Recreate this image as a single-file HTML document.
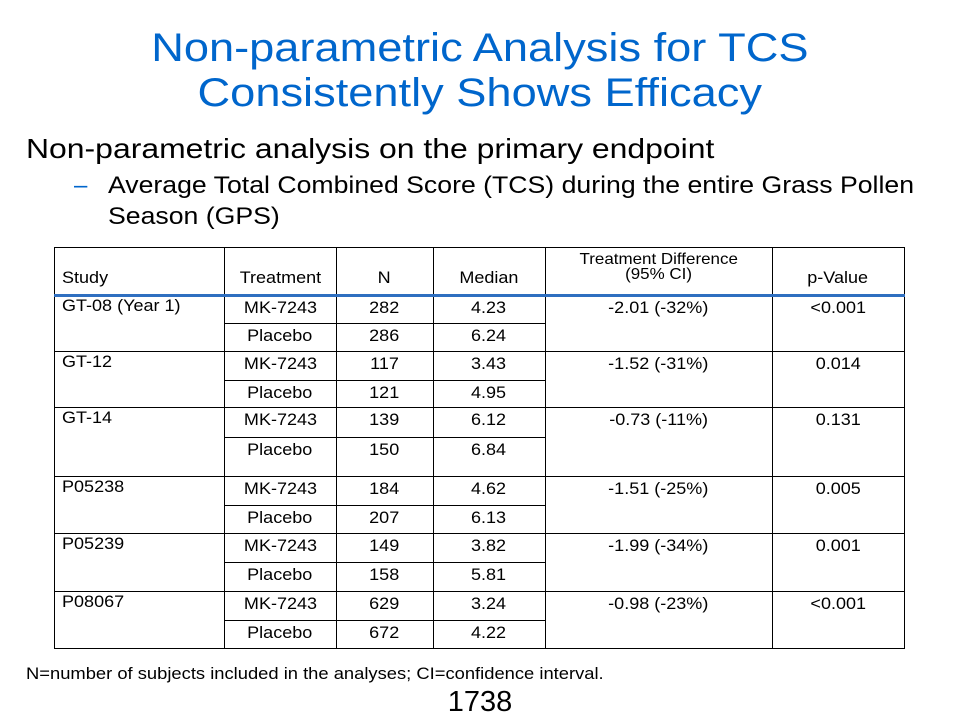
<!DOCTYPE html>
<html><head><meta charset="utf-8"><style>
body{margin:0;background:#fff;}
#s{position:relative;width:960px;height:720px;overflow:hidden;font-family:"Liberation Sans",Arial,sans-serif;color:#000;}
.t{position:absolute;white-space:nowrap;}
.sx{display:inline-block;}
.sl{transform-origin:0 0;}
.sc{transform-origin:50% 0;}
.title{left:0;width:960px;text-align:center;color:#0066CC;font-size:40px;line-height:47px;}
.title span{transform:scaleX(1.13);}
.h{position:absolute;background:#000;height:1px;}
.v{position:absolute;background:#000;width:1px;}
.c{position:absolute;font-size:17px;white-space:nowrap;}
.c span{display:inline-block;transform:scaleX(1.06);}
</style></head><body>
<div id="s">
<div class="t title" style="top:25px"><span class="sx sc">Non-parametric Analysis for TCS</span></div>
<div class="t title" style="top:70px"><span class="sx sc">Consistently Shows Efficacy</span></div>
<div class="t" style="left:26px;top:133px;font-size:28px"><span class="sx sl" style="transform:scaleX(1.14)">Non-parametric analysis on the primary endpoint</span></div>
<div class="t" style="left:74px;top:172px;font-size:24px;color:#0066CC">–</div>
<div class="t" style="left:108px;top:172px;font-size:24px"><span class="sx sl" style="transform:scaleX(1.11)">Average Total Combined Score (TCS) during the entire Grass Pollen</span></div>
<div class="t" style="left:108px;top:203px;font-size:24px"><span class="sx sl" style="transform:scaleX(1.11)">Season (GPS)</span></div>
<div id="tbl"></div>
<div class="t" style="left:26px;top:664px;font-size:17px"><span class="sx sl" style="transform:scaleX(1.08)">N=number of subjects included in the analyses; CI=confidence interval.</span></div>
<div class="t" style="left:0;width:960px;text-align:center;top:686px;font-size:29px">1738</div>
</div>
<script>
const studies=["GT-08 (Year 1)","GT-12","GT-14","P05238","P05239","P08067"];
const nActive=[282,117,139,184,149,629];
const nPlacebo=[286,121,150,207,158,672];
const medActive=["4.23","3.43","6.12","4.62","3.82","3.24"];
const medPlacebo=["6.24","4.95","6.84","6.13","5.81","4.22"];
const diffs=["-2.01 (-32%)","-1.52 (-31%)","-0.73 (-11%)","-1.51 (-25%)","-1.99 (-34%)","-0.98 (-23%)"];
const pvals=["<0.001","0.014","0.131","0.005","0.001","<0.001"];
const s=document.getElementById('tbl');
const X=[54,224,336,433,545,772,904];
const groupTop=[295,351,407,476,533,591];
const groupSub=[323,380,437,505,562,620];
const bottom=648;
function line(cls,l,t,w,h,name,col){const d=document.createElement('div');d.className=cls;d.style.left=l+'px';d.style.top=t+'px';if(w)d.style.width=w+'px';if(h)d.style.height=h+'px';if(col)d.style.background=col;


s.appendChild(d);}
function cell(txt,x0,x1,top,align,name,fs){const d=document.createElement('div');d.className='c';const sp=document.createElement('span');sp.textContent=txt;d.appendChild(sp);d.style.top=top+'px';
if(fs)d.style.fontSize=fs+'px';
if(align==='l'){d.style.left=(x0+8)+'px';sp.style.transformOrigin='0 0';}else{d.style.left=x0+'px';d.style.width=(x1-x0)+'px';d.style.textAlign='center';sp.style.transformOrigin='50% 0';}


s.appendChild(d);}
line('h',X[0],247,X[6]-X[0]+1,0,'table-top-border');
line('h',X[0],bottom,X[6]-X[0]+1,0,'table-bottom-border');
for(let i=0;i<X.length;i++)line('v',X[i],247,0,bottom-247+1,'column-divider');
line('h',X[0],294,X[6]-X[0]+1,3,'header-divider','#2F6FC0');
cell('Study',X[0],X[1],268,'l','header-study');
cell('Treatment',X[1],X[2],268,'c','header-treatment');
cell('N',X[2],X[3],268,'c','header-n');
cell('Median',X[3],X[4],268,'c','header-median');
cell('Treatment Difference',X[4],X[5],251,'c','header-difference',16);
cell('(95% CI)',X[4],X[5],266,'c','header-difference-ci',16);
cell('p-Value',X[5],X[6],268,'c','header-p-value');
for(let i=0;i<studies.length;i++){
 const t=groupTop[i],m=groupSub[i];
 if(i>0)line('h',X[0],t,X[6]-X[0]+1,0,'group-divider');
 line('h',X[1],m,X[4]-X[1]+1,0,'row-divider');
 cell(studies[i],X[0],X[1],t+1,'l','study-name');
 cell('MK-7243',X[1],X[2],t+3,'c','treatment-active');
 cell(String(nActive[i]),X[2],X[3],t+3,'c','n-active');
 cell(medActive[i],X[3],X[4],t+3,'c','median-active');
 cell('Placebo',X[1],X[2],m+3,'c','treatment-placebo');
 cell(String(nPlacebo[i]),X[2],X[3],m+3,'c','n-placebo');
 cell(medPlacebo[i],X[3],X[4],m+3,'c','median-placebo');
 cell(diffs[i],X[4],X[5],t+3,'c','treatment-difference');
 cell(pvals[i],X[5],X[6],t+3,'c','p-value');
}
</script>
</body></html>
